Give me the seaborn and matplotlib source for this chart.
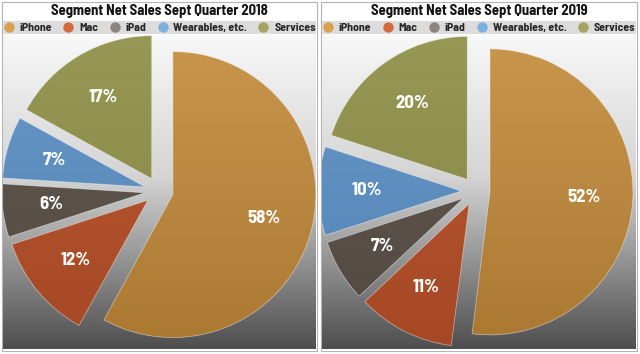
import numpy as np
import matplotlib.pyplot as plt
import seaborn as sns
from matplotlib.colors import LinearSegmentedColormap
from matplotlib.lines import Line2D
from matplotlib.patches import Rectangle

# data
segments = ['iPhone', 'Mac', 'iPad', 'Wearables, etc.', 'Services']
share_2018 = [58, 12, 6, 7, 17]
share_2019 = [52, 11, 7, 10, 20]
titles = ['Segment Net Sales Sept Quarter 2018', 'Segment Net Sales Sept Quarter 2019']

# slice colours (top / bottom of the vertical shading) and legend dot colours
top_cols = ['#c8974d', '#bb5a32', '#625a51', '#6898c7', '#979855']
bot_cols = ['#ab7832', '#a64826', '#524a42', '#5383b5', '#838443']
dot_cols = ['#dba04f', '#d4683f', '#8c857e', '#7db0de', '#a4a35f']

sns.set_theme(style='white')
plt.rcParams['font.family'] = ['Barlow Semi Condensed', 'DejaVu Sans']

W, H = 640, 354
fig = plt.figure(figsize=(6.4, 3.54), dpi=100)
fig.patch.set_facecolor('white')

# pixel boxes: panel frame, pie area, pie centre, radius
panels = [dict(x0=2, x1=317, ax0=3, ax1=316, cx=159.0, cy=191.0),
          dict(x0=321, x1=637, ax0=322, ax1=636, cx=475.7, cy=191.0)]
y_top, y_bot = 35, 349
r = 143.0

bg = LinearSegmentedColormap.from_list('bg', [(0, '#f8f8f8'), (0.45, '#d4d4d4'), (0.75, '#8c8c8c'), (1, '#4e4e4e')])

for p, shares, title in zip(panels, [share_2018, share_2019], titles):
    # panel frame and legend band
    fig.patches.append(Rectangle((p['x0'] / W, 1 - 351 / H), (p['x1'] - p['x0']) / W, 349 / H,
                                 transform=fig.transFigure, fc='white', ec='#b4b4b4', lw=0.8, zorder=-3))
    fig.patches.append(Rectangle((p['ax0'] / W, 1 - 34 / H), (p['ax1'] - p['ax0']) / W, 13 / H,
                                 transform=fig.transFigure, fc='#dcdcdc', ec='none', zorder=-2))
    xm = (p['x0'] + p['x1']) / 2 / W
    fig.text(xm, 1 - 11 / H, title, ha='center', va='center', fontsize=10.5,
             fontweight='bold', color='#141414')
    handles = [Line2D([], [], ls='', marker='o', markersize=7.5, markerfacecolor=c, markeredgecolor='none')
               for c in dot_cols]
    fig.legend(handles, segments, loc='center', bbox_to_anchor=(xm, 1 - 27.5 / H), ncol=5, frameon=False,
               handlelength=0.9, handletextpad=0.45, columnspacing=0.95, borderpad=0,
               prop={'weight': 'bold', 'size': 8.5})

    ax = fig.add_axes([p['ax0'] / W, 1 - y_bot / H, (p['ax1'] - p['ax0']) / W, (y_bot - y_top) / H])
    xlim = (-(p['cx'] - p['ax0']) / r, (p['ax1'] - p['cx']) / r)
    ylim = (-(y_bot - p['cy']) / r, (p['cy'] - y_top) / r)
    ext = [xlim[0], xlim[1], ylim[0], ylim[1]]
    grad = np.linspace(0, 1, 256).reshape(-1, 1)
    ax.imshow(grad, cmap=bg, extent=ext, aspect='auto', zorder=0, origin='upper')

    wedges, texts, autotexts = ax.pie(shares, explode=[0.1] * 5, startangle=90, counterclock=False,
                                      autopct=lambda v: f'{v:.0f}%', pctdistance=0.66,
                                      wedgeprops=dict(ec=(1, 1, 1, 0.45), lw=0.6),
                                      textprops=dict(color='white', fontsize=13.5, fontweight='bold'))
    for w, c0, c1 in zip(wedges, top_cols, bot_cols):
        cm = LinearSegmentedColormap.from_list('w', [c0, c1])
        im = ax.imshow(grad, cmap=cm, extent=ext, aspect='auto', zorder=1.5, origin='upper')
        im.set_clip_path(w)
        w.set_facecolor('none')
        w.set_zorder(2)
        w.set_clip_on(True)
    for t in autotexts:
        t.set_zorder(3)
    ax.set_xlim(*xlim)
    ax.set_ylim(*ylim)
    ax.set_aspect('auto')
    ax.axis('off')

fig.savefig('out.png', dpi=100)
